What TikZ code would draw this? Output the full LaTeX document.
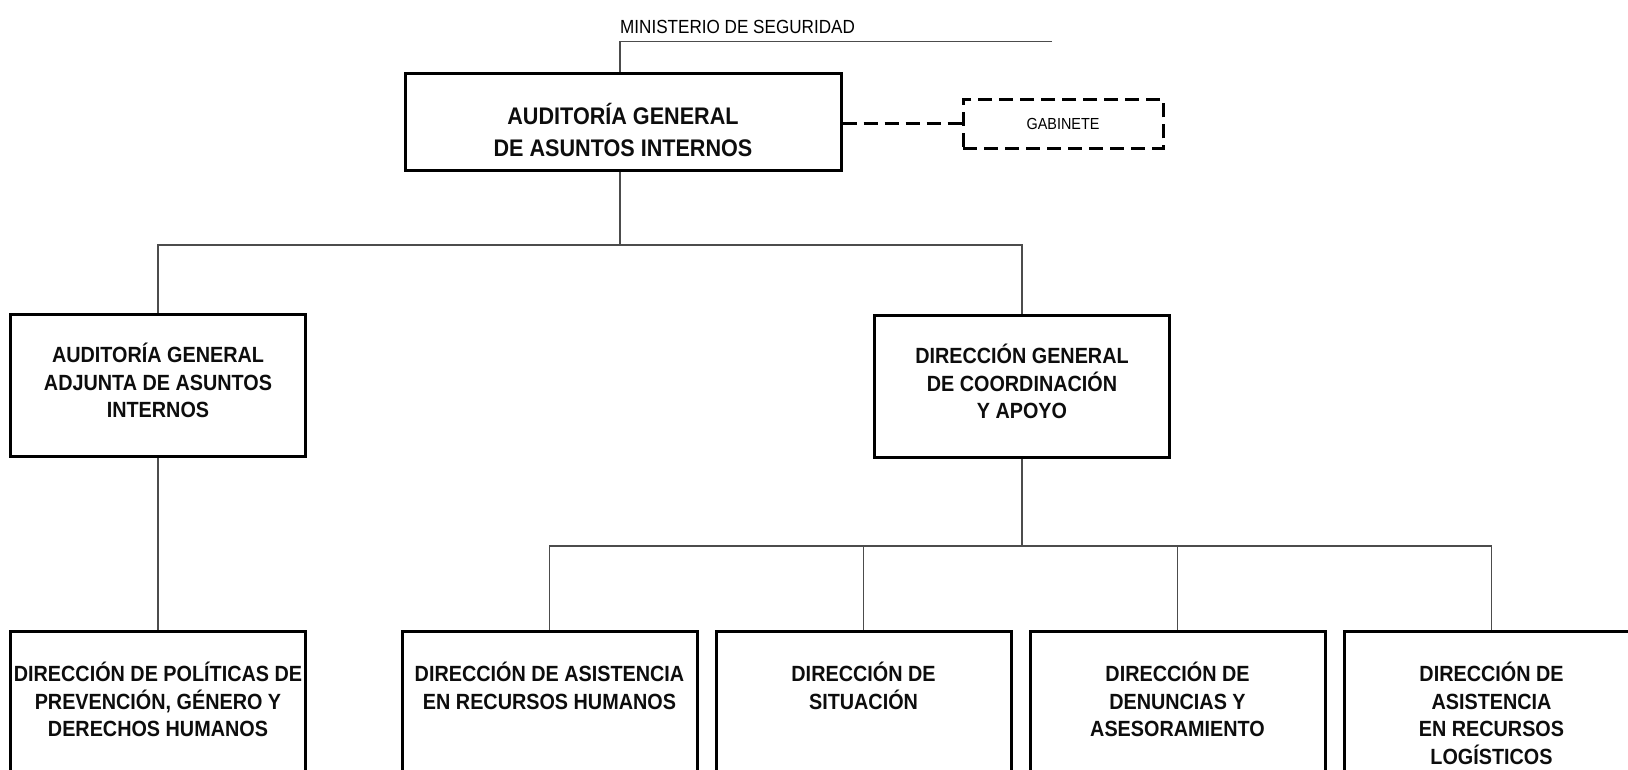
\documentclass[tikz,border=0pt]{standalone}
\usepackage{fontspec}
\setmainfont[FakeStretch=0.9]{Liberation Sans}
\usetikzlibrary{positioning}

\begin{document}
\begin{tikzpicture}[x=1pt,y=-1pt,
    caja/.style={draw=black, line width=3pt, inner sep=0pt, minimum width=295pt, minimum height=142pt},
    cajabaja/.style={caja, anchor=north, minimum height=200pt},
    texto/.style={anchor=north, align=center, inner sep=0pt, text=black!95,
        font=\bfseries\fontsize{22}{27.5}\selectfont},
    enlace/.style={draw=black!70, line width=1.1pt},
    node distance=16pt]

    \useasboundingbox (0,0) rectangle (1628,770);

    % Ministerio line
    \node[anchor=base west, inner sep=0pt, font=\fontsize{19}{19}\selectfont] (min) at (620,34) {MINISTERIO DE SEGURIDAD};
    \coordinate (minl) at (620,41.5);
    \coordinate (minr) at (1052,41.5);

    % Top box and gabinete
    \node[caja, minimum width=436pt, minimum height=97pt] (agai) at (623,122) {};
    \node[texto, font=\bfseries\fontsize{24}{32}\selectfont] (agai-t) at ([yshift=-31pt]agai.north)
        {AUDITORÍA GENERAL\\DE ASUNTOS INTERNOS};
    \node[draw=black, line width=3pt, dash pattern=on 14pt off 7pt, inner sep=0pt,
        minimum width=200pt, minimum height=49pt, font=\fontsize{16}{16}\selectfont] (gab) at (1063,124) {GABINETE};
    \draw[line width=3pt, dash pattern=on 14pt off 7pt] (agai.east |- gab.west) -- (gab.west);

    % Second level
    \node[caja] (agaai) at (158,385.5) {};
    \node[texto] (agaai-t) at ([yshift=-30pt]agaai.north) {AUDITORÍA GENERAL\\ADJUNTA DE ASUNTOS\\INTERNOS};
    \node[caja] (dgca) at (1022,386.5) {};
    \node[texto] (dgca-t) at ([yshift=-30pt]dgca.north) {DIRECCIÓN GENERAL\\DE COORDINACIÓN\\Y APOYO};

    % Third level
    \node[cajabaja] (dpp) at (158,630) {};
    \node[cajabaja] (darh) at (549.5,630) {};
    \node[cajabaja, anchor=west, right=of darh] (dsit) {};
    \node[cajabaja, anchor=west, right=of dsit] (dda) {};
    \node[cajabaja, anchor=west, right=of dda] (darl) {};
    \node[texto] (dpp-t) at ([yshift=-32pt]dpp.north) {DIRECCIÓN DE POLÍTICAS DE\\PREVENCIÓN, GÉNERO Y\\DERECHOS HUMANOS};
    \node[texto] (darh-t) at ([yshift=-32pt]darh.north) {DIRECCIÓN DE ASISTENCIA\\EN RECURSOS HUMANOS};
    \node[texto] (dsit-t) at ([yshift=-32pt]dsit.north) {DIRECCIÓN DE\\SITUACIÓN};
    \node[texto] (dda-t) at ([yshift=-32pt]dda.north) {DIRECCIÓN DE\\DENUNCIAS Y\\ASESORAMIENTO};
    \node[texto] (darl-t) at ([yshift=-32pt]darl.north) {DIRECCIÓN DE\\ASISTENCIA\\EN RECURSOS\\LOGÍSTICOS};

    % Connectors
    \coordinate (r1) at (620,245);
    \coordinate (r2) at (1022,546);
    \draw[enlace] (minr) -- (minl) -- (minl |- agai.north);
    \draw[enlace] (agai.south -| minl) -- (r1);
    \draw[enlace] (agaai.north) -- (agaai.north |- r1) -- (dgca.north |- r1) -- (dgca.north);
    \draw[enlace] (agaai.south) -- (dpp.north);
    \draw[enlace] (dgca.south) -- (r2);
    \draw[enlace] (darh.north) -- (darh.north |- r2) -- (darl.north |- r2) -- (darl.north);
    \foreach \n in {dsit,dda}
        \draw[enlace] (\n.north |- r2) -- (\n.north);

\end{tikzpicture}
\end{document}
